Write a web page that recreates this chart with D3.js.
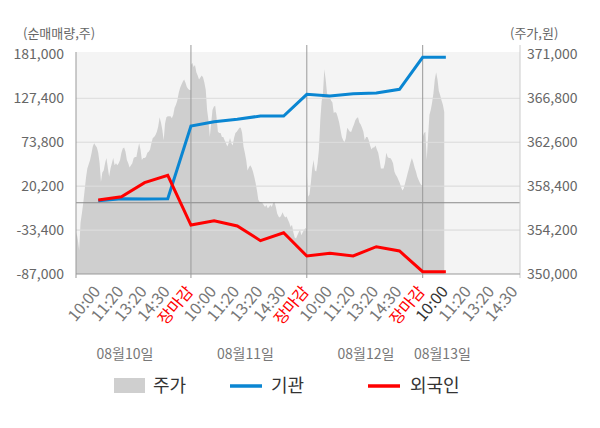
<!DOCTYPE html>
<html>
<head>
<meta charset="utf-8">
<script src="https://cdn.jsdelivr.net/npm/d3@7"></script>
<style>
  body { margin: 0; background: #fff; }
  text { font-family: "Noto Sans CJK KR", "Noto Sans", sans-serif; }
</style>
</head>
<body>
<svg id="chart"></svg>
<script>
var width = 600;
var height = 428;

// 날짜, 시간 슬롯
var days = ["08월10일", "08월11일", "08월12일", "08월13일"];
var slotLabels = ["10:00", "11:20", "13:20", "14:30", "장마감"];

// 순매매량 (주), 10:00 08/10 부터 10:00 08/13 까지
var instFlow = [2500, 4900, 4600, 4900, 93700,
    99000, 101900, 105900, 105900, 132400,
    130300, 133100, 134000, 138500, 177600,
    177600];
var foreignFlow = [3400, 7400, 24500, 33500, -27200,
    -21900, -28400, -46300, -36600, -65000,
    -61700, -65000, -53700, -58900, -84200,
    -84200];

// 주가 (원)
var price1 = [352600, 354000, 353300, 352300, 354900, 355800, 356800, 358000, 359200, 360100,
    360500, 360900, 361500, 362200, 362500, 362300, 362100, 361600, 360600, 358800,
    359700, 359900, 360600, 361100, 360200, 359300, 360100, 360600, 361100, 360400,
    360600, 360400, 360600, 360900, 361600, 362000, 362100, 361700, 360900, 360600,
    360200, 360400, 360600, 361100, 361200, 361200, 361900, 362500, 361900, 360900,
    361100, 361100, 361200, 361600, 361700, 361900, 362500, 363000, 363100, 363300,
    363600, 364100, 365000, 364500, 363800, 362800, 364400, 365000, 365100, 365100,
    365100, 364900, 365200, 365900, 366200, 366600, 367300, 367800, 368100, 368400,
    368600, 368300, 367900, 367700, 367600, 367600];
var price2 = [370000, 370200, 369800, 370000, 369300, 369000, 368600, 368800, 369000, 368800,
    368300, 367600, 365700, 364700, 363100, 364400, 365700, 366000, 366100, 365000,
    363600, 363500, 363500, 363100, 363100, 362800, 362500, 362200, 362500, 363000,
    362500, 362300, 363000, 363500, 363600, 363800, 364000, 364000, 363500, 362200,
    361600, 360900, 359900, 360200, 360400, 360200, 359800, 359300, 358700, 358000,
    357100, 356900, 356900, 356800, 356600, 356400, 356600, 356300, 356400, 356600,
    356400, 356800, 356900, 356400, 355800, 355500, 355400, 355600, 355900, 355600,
    355400, 355500, 355200, 354900, 354500, 354700, 354000, 353500, 353400, 353700,
    354000, 354200, 353700, 354000, 354200, 354400, 354200];
var price3 = [359700, 357400, 357600, 358700, 360100, 360900, 359900, 359800, 360600, 361900,
    364700, 366500, 367300, 369600, 368600, 367300, 366900, 366900, 366600, 366400,
    365400, 365500, 365400, 365000, 364500, 363800, 363100, 362800, 362600, 363000,
    364000, 363800, 363600, 363600, 364000, 364300, 364700, 364900, 365000, 364500,
    364300, 364000, 363600, 362800, 363100, 363100, 362800, 362300, 361900, 362100,
    362100, 362300, 361900, 361600, 360900, 360100, 360100, 360100, 360600, 361600,
    361200, 361100, 361100, 360900, 360600, 359800, 359500, 359300, 359000, 358700,
    358300, 358000, 358200, 358700, 359200, 359700, 360200, 360700, 361100, 360700,
    360200, 359800, 359300, 359000, 358700, 358500, 358500];
var price4 = [363100, 363500, 363600, 360900, 363100, 365200, 365700, 366400, 367300, 368600,
    369300, 368600, 367500, 367100, 366600, 366200, 365500];

var leftTicks = [-87000, -33400, 20200, 73800, 127400, 181000];
var rightTicks = [350000, 354200, 358400, 362600, 366800, 371000];

var plotL = 76, plotR = 520, plotT = 52, plotB = 274;

var svg = d3.select("#chart")
    .attr("width", width)
    .attr("height", height);

var x = d3.scaleLinear().domain([0.04, 19.2]).range([plotL, plotR]);
var yL = d3.scaleLinear().domain([-87000, 181000]).range([plotB, 54.5]);
var yR = d3.scaleLinear().domain([350000, 371000]).range([plotB, 54.5]);

svg.append("defs").append("clipPath")
    .attr("id", "plotClip")
    .append("rect")
    .attr("x", plotL).attr("y", plotT)
    .attr("width", plotR - plotL).attr("height", plotB - plotT);

// 배경
svg.append("rect")
    .attr("x", plotL).attr("y", plotT)
    .attr("width", plotR - plotL).attr("height", plotB - plotT)
    .attr("fill", "#f4f4f4");

// 가로 격자
svg.selectAll(".grid")
    .data(leftTicks.slice(1, leftTicks.length - 1))
    .enter().append("line")
    .attr("x1", plotL).attr("x2", plotR)
    .attr("y1", function (d) { return yL(d); })
    .attr("y2", function (d) { return yL(d); })
    .attr("stroke", "#dadada");

// 주가 영역
var pricePts = [];
var priceDays = [price1, price2, price3];
for (var d = 0; d < priceDays.length; d++) {
    var n = priceDays[d].length;
    for (var j = 0; j < n; j++) {
        pricePts.push({ i: 5 * d + j * 5 / (n - 1), p: priceDays[d][j] });
    }
}
var step4 = 5 / (price3.length - 1);
for (var j = 0; j < price4.length; j++) {
    pricePts.push({ i: 15 + j * step4, p: price4[j] });
}

var area = d3.area()
    .x(function (d) { return x(d.i); })
    .y0(plotB)
    .y1(function (d) { return yR(d.p); });

svg.append("path")
    .datum(pricePts)
    .attr("clip-path", "url(#plotClip)")
    .attr("fill", "#cfcfcf")
    .attr("d", area);

// 가로 격자 (영역 위)
svg.selectAll(".grid2")
    .data(leftTicks.slice(1, leftTicks.length - 1))
    .enter().append("line")
    .attr("x1", plotL).attr("x2", plotR)
    .attr("y1", function (d) { return yL(d); })
    .attr("y2", function (d) { return yL(d); })
    .attr("stroke", "#e2e2e2")
    .attr("stroke-opacity", 0.8);

// 0 선
svg.append("line")
    .attr("x1", plotL).attr("x2", plotR)
    .attr("y1", yL(0)).attr("y2", yL(0))
    .attr("stroke", "#8a8a8a");

// 날짜 구분선
svg.selectAll(".sep")
    .data([5, 10, 15])
    .enter().append("line")
    .attr("x1", function (d) { return x(d); })
    .attr("x2", function (d) { return x(d); })
    .attr("y1", 45).attr("y2", plotB)
    .attr("stroke", "#999");

// 축선
svg.append("line")
    .attr("x1", plotL).attr("x2", plotL)
    .attr("y1", plotT).attr("y2", plotB + 4)
    .attr("stroke", "#999");
svg.append("line")
    .attr("x1", plotR).attr("x2", plotR)
    .attr("y1", 45).attr("y2", plotB + 4)
    .attr("stroke", "#ccc");
svg.append("line")
    .attr("x1", plotL).attr("x2", plotR)
    .attr("y1", plotB).attr("y2", plotB)
    .attr("stroke", "#999");
svg.selectAll(".xtick")
    .data([5, 10, 15])
    .enter().append("line")
    .attr("x1", function (d) { return x(d); })
    .attr("x2", function (d) { return x(d); })
    .attr("y1", plotB).attr("y2", plotB + 4)
    .attr("stroke", "#999");

// 선
var line = d3.line()
    .x(function (d, i) { return x(i + 1); })
    .y(function (d) { return yL(d); });

svg.append("path")
    .datum(instFlow)
    .attr("fill", "none")
    .attr("stroke", "#0a86d2")
    .attr("stroke-width", 3)
    .attr("d", line);

svg.append("path")
    .datum(foreignFlow)
    .attr("fill", "none")
    .attr("stroke", "#ff0000")
    .attr("stroke-width", 3)
    .attr("d", line);

// 왼쪽 눈금
svg.selectAll(".lt")
    .data(leftTicks)
    .enter().append("text")
    .attr("x", 64)
    .attr("y", function (d) { return yL(d); })
    .attr("dy", "0.35em")
    .attr("text-anchor", "end")
    .attr("font-size", "14px")
    .attr("fill", "#666")
    .text(function (d) { return d3.format(",")(d).replace("−", "-"); });

// 오른쪽 눈금
svg.selectAll(".rt")
    .data(rightTicks)
    .enter().append("text")
    .attr("x", 527)
    .attr("y", function (d) { return yR(d); })
    .attr("dy", "0.35em")
    .attr("font-size", "14px")
    .attr("fill", "#666")
    .text(function (d) { return d3.format(",")(d); });

svg.append("text")
    .attr("x", 23).attr("y", 38)
    .attr("font-size", "13px").attr("fill", "#666")
    .text("(순매매량,주)");
svg.append("text")
    .attr("x", 510).attr("y", 38)
    .attr("font-size", "13px").attr("fill", "#666")
    .text("(주가,원)");

// x 눈금 라벨
var xLabels = [];
for (var d = 0; d < days.length; d++) {
    for (var k = 0; k < slotLabels.length; k++) {
        var idx = 5 * d + k + 1;
        if (idx > 19) continue;
        xLabels.push({ i: idx, text: slotLabels[k], day: d, k: k });
    }
}

svg.selectAll(".xl")
    .data(xLabels)
    .enter().append("text")
    .attr("transform", function (d) {
        return "translate(" + (x(d.i) + 3) + "," + 292 + ") rotate(-50)";
    })
    .attr("text-anchor", "end")
    .attr("font-size", "16px")
    .attr("fill", function (d) {
        if (d.k === 4) return "#ff0000";
        if (d.i === 16) return "#333";
        return "#777";
    })
    .text(function (d) { return d.text; });

// 날짜 라벨
var dayCenters = [2.15, 7.35, 12.55, 15.85];
svg.selectAll(".dl")
    .data(days)
    .enter().append("text")
    .attr("x", function (d, i) { return x(dayCenters[i]); })
    .attr("y", 354)
    .attr("dy", "0.35em")
    .attr("text-anchor", "middle")
    .attr("font-size", "14px")
    .attr("fill", "#777")
    .text(function (d) { return d; });

// 범례
var legend = svg.append("g");
legend.append("rect")
    .attr("x", 114).attr("y", 378)
    .attr("width", 31).attr("height", 15)
    .attr("fill", "#cfcfcf");
legend.append("text")
    .attr("x", 153).attr("y", 386).attr("dy", "0.35em")
    .attr("font-size", "18px").attr("fill", "#333")
    .text("주가");
legend.append("line")
    .attr("x1", 230).attr("x2", 262)
    .attr("y1", 386).attr("y2", 386)
    .attr("stroke", "#0a86d2").attr("stroke-width", 3.5);
legend.append("text")
    .attr("x", 271).attr("y", 386).attr("dy", "0.35em")
    .attr("font-size", "18px").attr("fill", "#333")
    .text("기관");
legend.append("line")
    .attr("x1", 368).attr("x2", 400)
    .attr("y1", 386).attr("y2", 386)
    .attr("stroke", "#ff0000").attr("stroke-width", 3.5);
legend.append("text")
    .attr("x", 410).attr("y", 386).attr("dy", "0.35em")
    .attr("font-size", "18px").attr("fill", "#333")
    .text("외국인");
</script>
</body>
</html>
